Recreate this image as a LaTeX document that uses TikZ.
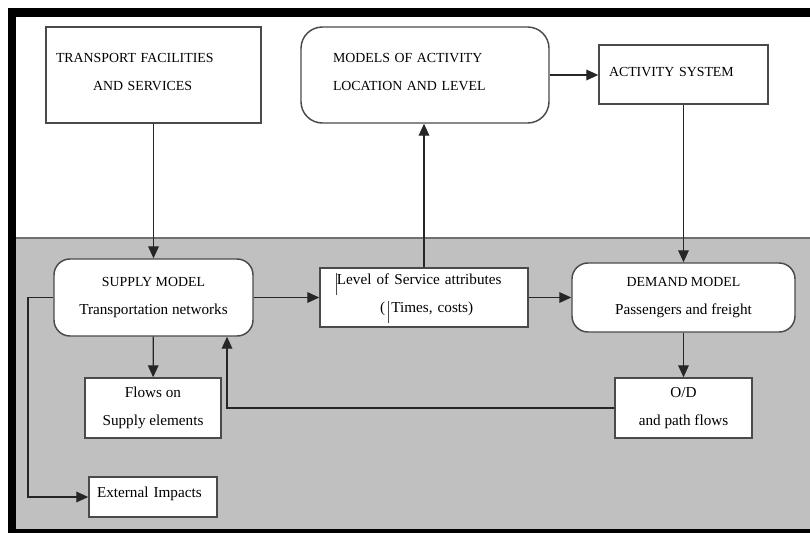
\documentclass[tikz,border=0pt]{standalone}
\usepackage{fontspec}
\setmainfont{Liberation Serif}
\usetikzlibrary{arrows.meta}

\definecolor{panelgray}{HTML}{C0C0C0}
\definecolor{edgegray}{HTML}{4A4A4A}
\definecolor{rulegray}{HTML}{707070}

\newcommand{\capsfont}{\fontsize{10.4}{21}\selectfont}
\newcommand{\txtfont}{\fontsize{11.4}{21}\selectfont}
\newcommand{\cursorbar}[2]{\textcolor{edgegray}{\rule[#1]{0.7pt}{#2}}}

\tikzset{
  box/.style={draw=edgegray, line width=1.1pt, fill=white, inner ysep=0pt, font=\txtfont},
  roundbox/.style={box, rounded corners=12pt},
  link/.style={draw=black!85, line width=1pt},
  flow/.style={link, -{Triangle[length=9pt,width=8pt]}}
}

\begin{document}
\begin{tikzpicture}[x=0.75pt, y=-0.75pt]
            \useasboundingbox (0,0) rectangle (810,533);
            \fill[white] (0,0) rectangle (810,533);

            % frame and lower panel
            \fill[panelgray] (16,238) rectangle (810,529);
            \draw[rulegray, line width=1pt] (16,238) -- (810,238);
            \fill[black] (8,8) rectangle (810,17);
            \fill[black] (8,8) rectangle (16,533);
            \fill[black] (8,529) rectangle (810,533);

            % upper row
            \node [box, font=\capsfont, align=left, minimum width=161.25pt, minimum height=72pt,
                   text width=146.25pt, inner xsep=7.5pt] (transport) at (153.5,75)
                  {TRANSPORT FACILITIES\\ \hspace*{27.75pt}AND SERVICES\vspace*{4pt}};
            \node [roundbox, rounded corners=16pt, font=\capsfont, align=left, minimum width=186pt,
                   minimum height=72pt, text width=138pt, inner xsep=24pt] (models) at (425,75)
                  {MODELS OF ACTIVITY\\ LOCATION AND LEVEL\vspace*{4pt}};
            \node [box, font=\capsfont, align=left, minimum width=126.75pt, minimum height=44.25pt,
                   text width=111.75pt, inner xsep=7.5pt] (activity) at (683.5,74.5)
                  {ACTIVITY SYSTEM\vspace*{4pt}};

            % models row
            \node [roundbox, align=center, minimum width=149.25pt, minimum height=57.75pt] (supply) at (153.5,297.5)
                  {{\capsfont SUPPLY MODEL}\\ Transportation networks};
            \node [box, align=left, minimum width=156pt, minimum height=44.25pt,
                   text width=132pt, inner xsep=12pt] (los) at (424,297.5)
                  {\cursorbar{-8pt}{17pt}Level of Service attributes\\
                   \hspace*{33pt}(\hspace{2pt}\cursorbar{-7.5pt}{16pt}\hspace{2pt}Times, costs)};
            \node [roundbox, align=center, minimum width=167.25pt, minimum height=51.75pt] (demand) at (683.5,297.5)
                  {{\capsfont DEMAND MODEL}\\ Passengers and freight};

            % outputs
            \node [box, align=center, minimum width=102pt, minimum height=45pt] (flows) at (153,408)
                  {Flows on\\ Supply elements};
            \node [box, align=center, minimum width=102.75pt, minimum height=45pt] (od) at (683.5,408)
                  {O/D\\ and path flows};
            \node [box, align=left, minimum width=96pt, minimum height=30pt,
                   text width=84pt, inner xsep=6pt] (external) at (153,497)
                  {External Impacts\vspace*{4pt}};

            \coordinate (back) at (227,408);
            \coordinate (impact) at (28,497);

            \draw [flow] (transport) -- (supply);
            \draw [flow] (los.north) -- (los.north |- models.south);
            \draw [flow] (models.east) -- (models.east -| activity.west);
            \draw [flow] (activity) -- (demand);

            \draw [flow] (supply) -- (los);
            \draw [flow] (los) -- (demand);
            \draw [flow] (supply) -- (flows);
            \draw [flow] (demand) -- (od);

            \draw [flow] (od.west) -- (back) -- (back |- supply.south);
            \draw [flow] (supply.west) -| (impact) -- (external.west);
\end{tikzpicture}
\end{document}
